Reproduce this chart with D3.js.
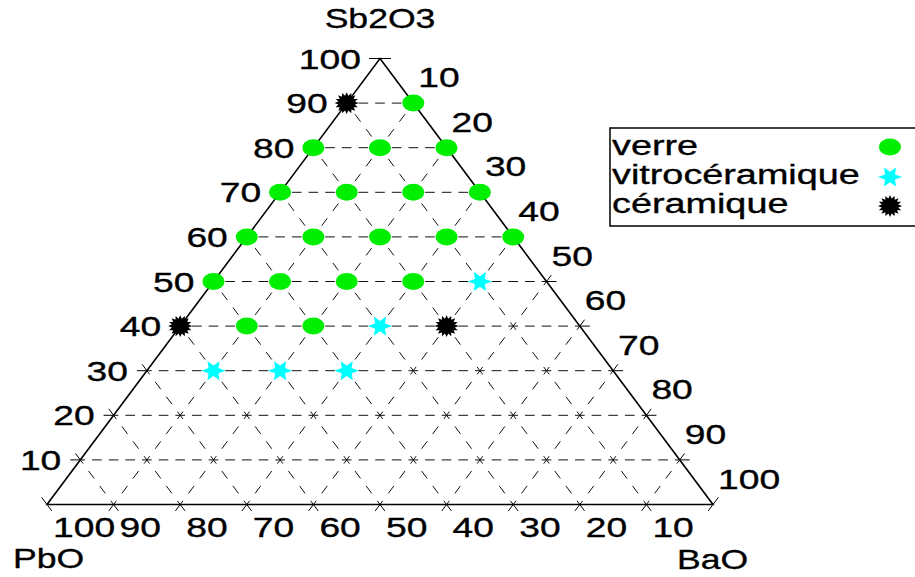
<!DOCTYPE html>
<html>
<head>
<meta charset="utf-8">
<script src="https://cdn.jsdelivr.net/npm/d3@7"></script>
<style>
  body { margin: 0; background: #fff; }
  text { font-family: "Liberation Sans", Arial, sans-serif; font-size: 28px; fill: #000; stroke: #000; stroke-width: 0.35px; }
</style>
</head>
<body>
<svg id="chart" width="915" height="577"></svg>
<script>
// series names (legend)
const seriesNames = ["verre", "vitrocéramique", "céramique"];
// compositions as [PbO, BaO, Sb2O3]
const verre = [
  [0, 10, 90],
  [20, 0, 80], [10, 10, 80], [0, 20, 80],
  [30, 0, 70], [20, 10, 70], [10, 20, 70], [0, 30, 70],
  [40, 0, 60], [30, 10, 60], [20, 20, 60], [10, 30, 60], [0, 40, 60],
  [50, 0, 50], [40, 10, 50], [30, 20, 50], [20, 30, 50],
  [50, 10, 40], [40, 20, 40]
];
const vitro = [[10, 40, 50], [30, 30, 40], [60, 10, 30], [50, 20, 30], [40, 30, 30]];
const ceram = [[10, 0, 90], [60, 0, 40], [20, 40, 40]];

const gridVals = [10, 20, 30, 40, 50, 60, 70, 80, 90];
const sbTicks = [100, 90, 80, 70, 60, 50, 40, 30, 20, 10];
const baTicks = [10, 20, 30, 40, 50, 60, 70, 80, 90, 100];
const pbTicks = [100, 90, 80, 70, 60, 50, 40, 30, 20, 10];

const svg = d3.select("#chart");
const SX = 1.33; // labels are drawn wide

// x runs with BaO + Sb2O3/2, y with Sb2O3
const X = d3.scaleLinear().domain([0, 100]).range([47, 713]);
const Y = d3.scaleLinear().domain([0, 100]).range([504.5, 58.5]);
const proj = (b, s) => [X(b + s / 2), Y(s)];

function label(x, y, str, anchor, sx) {
  svg.append("text")
    .attr("transform", `translate(${x},${y}) scale(${sx || SX},1)`)
    .attr("text-anchor", anchor || "start")
    .text(str);
}

// gridlines: [start, end, number of node steps]
const lines = [];
gridVals.forEach(s => lines.push({ a: proj(0, s), b: proj(100 - s, s), n: (100 - s) / 10 }));   // Sb2O3 const
gridVals.forEach(b => lines.push({ a: proj(b, 0), b: proj(b, 100 - b), n: (100 - b) / 10 }));   // BaO const
gridVals.forEach(p => lines.push({ a: proj(100 - p, 0), b: proj(0, 100 - p), n: (100 - p) / 10 })); // PbO const

const grid = svg.append("g");
lines.forEach(l => {
  const len = Math.hypot(l.b[0] - l.a[0], l.b[1] - l.a[1]);
  const horiz = Math.abs(l.a[1] - l.b[1]) < 0.1;
  const period = len / l.n / (horiz ? 4 : 3);
  const dash = period * (horiz ? 0.58 : 0.5);
  grid.append("line")
    .attr("x1", l.a[0]).attr("y1", l.a[1]).attr("x2", l.b[0]).attr("y2", l.b[1])
    .attr("stroke", "#111").attr("stroke-width", 1)
    .attr("stroke-dasharray", `${dash},${period - dash}`)
    .attr("stroke-dashoffset", dash / 2);
  // short solid ticks beyond both ends
  const ux = (l.b[0] - l.a[0]) / len, uy = (l.b[1] - l.a[1]) / len;
  const t = horiz ? 10 : 8;
  grid.append("line")
    .attr("x1", l.a[0]).attr("y1", l.a[1]).attr("x2", l.a[0] - ux * t).attr("y2", l.a[1] - uy * t)
    .attr("stroke", "#000");
  grid.append("line")
    .attr("x1", l.b[0]).attr("y1", l.b[1]).attr("x2", l.b[0] + ux * t).attr("y2", l.b[1] + uy * t)
    .attr("stroke", "#000");
});

// vertex ticks
const apex = proj(0, 100), left = proj(0, 0), right = proj(100, 0);
const edgeLen = Math.hypot(right[0] - apex[0], right[1] - apex[1]);
const ru = [(right[0] - apex[0]) / edgeLen, (right[1] - apex[1]) / edgeLen];
const lu = [(left[0] - apex[0]) / edgeLen, (left[1] - apex[1]) / edgeLen];
grid.append("line").attr("x1", apex[0] - 11).attr("y1", apex[1]).attr("x2", apex[0] + 11).attr("y2", apex[1]).attr("stroke", "#000");
grid.append("line").attr("x1", left[0] - ru[0] * 9).attr("y1", left[1] - ru[1] * 9)
  .attr("x2", left[0] + ru[0] * 8).attr("y2", left[1] + ru[1] * 8).attr("stroke", "#000");
grid.append("line").attr("x1", right[0] - lu[0] * 9).attr("y1", right[1] - lu[1] * 9)
  .attr("x2", right[0] + lu[0] * 8).attr("y2", right[1] + lu[1] * 8).attr("stroke", "#000");

// triangle outline
svg.append("path")
  .attr("d", d3.line()([apex, right, left]) + "Z")
  .attr("fill", "none").attr("stroke", "#000").attr("stroke-width", 1.6);

// tick labels
sbTicks.forEach(s => { const p = proj(0, s); label(p[0] - 19, p[1] + 10, s, "end"); });
baTicks.forEach(b => { const p = proj(b, 100 - b); label(p[0] + 5, p[1] - 16, b); });
pbTicks.forEach(v => { const p = proj(100 - v, 0); label(p[0] + 6, 537, v); });

// axis titles
label(380, 28, "Sb2O3", "middle", 1.27);
label(13, 568, "PbO", "start", 1.27);
label(677, 569, "BaO", "start", 1.27);

// marker shapes
const starPath = d3.lineRadial().curve(d3.curveLinearClosed)(
  d3.range(12).map(i => [i * Math.PI / 6 + Math.PI / 2, i % 2 ? 5.2 : 11]));
const burstPath = d3.lineRadial().curve(d3.curveLinearClosed)(
  d3.range(32).map(i => [i * Math.PI / 16, i % 2 ? 8 : 11.5]));

function drawSeries(data, kind, g) {
  data.forEach(d => {
    const p = proj(d[1], d[2]);
    drawMarker(g, kind, p[0], p[1]);
  });
}
function drawMarker(g, kind, x, y) {
  if (kind === 0) {
    g.append("ellipse").attr("cx", x).attr("cy", y).attr("rx", 11).attr("ry", 8.5).attr("fill", "#00ee00");
  } else if (kind === 1) {
    g.append("path").attr("d", starPath).attr("transform", `translate(${x},${y}) scale(1.1,1)`).attr("fill", "#00ffff");
  } else {
    g.append("path").attr("d", burstPath).attr("transform", `translate(${x},${y}) scale(1.05,0.95)`).attr("fill", "#000");
  }
}

const marks = svg.append("g");
drawSeries(verre, 0, marks);
drawSeries(vitro, 1, marks);
drawSeries(ceram, 2, marks);

// legend
const legend = svg.append("g");
legend.append("rect").attr("x", 610).attr("y", 128).attr("width", 320).attr("height", 98)
  .attr("fill", "#fff").attr("stroke", "#000").attr("stroke-width", 1.5);
const legendY = [155, 184, 213];
const legendMarkY = [147, 177, 206];
seriesNames.forEach((n, i) => {
  legend.append("text")
    .attr("transform", `translate(612,${legendY[i]}) scale(1.35,1)`)
    .text(n);
  drawMarker(legend, i, 890, legendMarkY[i]);
});
</script>
</body>
</html>
